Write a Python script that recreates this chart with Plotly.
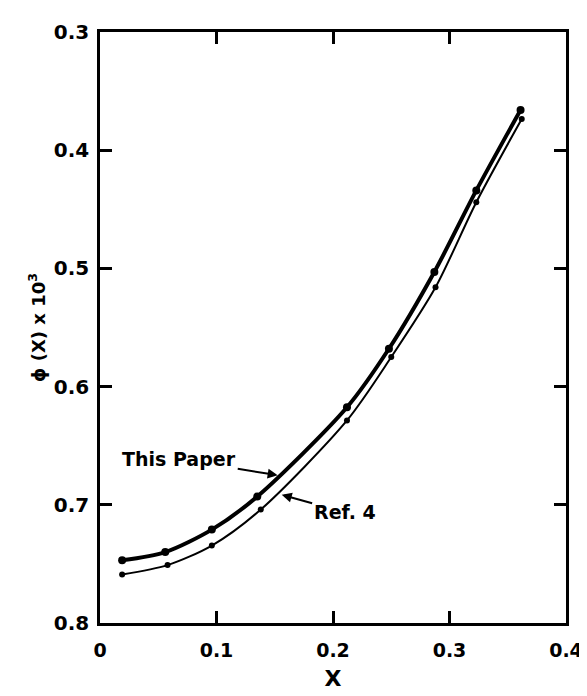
import plotly.graph_objects as go

# Data
x_this = [0.019, 0.056, 0.096, 0.135, 0.212, 0.248, 0.287, 0.323, 0.361]
y_this = [0.747, 0.740, 0.721, 0.693, 0.6175, 0.568, 0.503, 0.434, 0.366]

x_ref4 = [0.019, 0.058, 0.096, 0.138, 0.212, 0.250, 0.288, 0.323, 0.362]
y_ref4 = [0.759, 0.751, 0.7345, 0.704, 0.6286, 0.575, 0.516, 0.444, 0.3736]

x_ticks = [0, 0.1, 0.2, 0.3, 0.4]
x_tick_labels = ["0", "0.1", "0.2", "0.3", "0.4"]
y_ticks = [0.3, 0.4, 0.5, 0.6, 0.7, 0.8]
y_tick_labels = ["0.3", "0.4", "0.5", "0.6", "0.7", "0.8"]

FONT = "DejaVu Sans"

fig = go.Figure()
fig.add_trace(go.Scatter(
    x=x_ref4, y=y_ref4, mode="lines+markers",
    line=dict(color="black", width=2, shape="spline", smoothing=0.8),
    marker=dict(color="black", size=6),
    showlegend=False,
))
fig.add_trace(go.Scatter(
    x=x_this, y=y_this, mode="lines+markers",
    line=dict(color="black", width=4, shape="spline", smoothing=0.8),
    marker=dict(color="black", size=8),
    showlegend=False,
))

fig.add_annotation(
    x=0.1525, y=0.675, xref="x", yref="y",
    ax=0.068, ay=0.6615, axref="x", ayref="y",
    text="<b>This Paper</b>", showarrow=True,
    arrowhead=2, arrowsize=1, arrowwidth=2, arrowcolor="black",
    font=dict(family=FONT, size=19, color="black"),
    xanchor="center", yanchor="middle",
)
fig.add_annotation(
    x=0.156, y=0.6915, xref="x", yref="y",
    ax=0.21, ay=0.7065, axref="x", ayref="y",
    text="<b>Ref. 4</b>", showarrow=True,
    arrowhead=2, arrowsize=1, arrowwidth=2, arrowcolor="black",
    font=dict(family=FONT, size=19, color="black"),
    xanchor="center", yanchor="middle",
)

fig.update_layout(
    width=587, height=696,
    margin=dict(l=92, r=19, t=17, b=81),
    paper_bgcolor="white", plot_bgcolor="white",
    font=dict(family=FONT, size=20, color="black"),
)
fig.update_xaxes(
    range=[0, 0.4], tickvals=x_ticks, ticktext=[f"<b>{t}</b>" for t in x_tick_labels],
    ticks="inside", ticklen=12, tickwidth=2.5, tickcolor="black",
    showline=True, linewidth=2.5, linecolor="black", mirror="ticks",
    showgrid=False, zeroline=False, ticklabelstandoff=8,
    title=dict(text="<b>X</b>", font=dict(family=FONT, size=22), standoff=12),
    tickfont=dict(family=FONT, size=19),
)
fig.update_yaxes(
    range=[0.8, 0.3], tickvals=y_ticks, ticktext=[f"<b>{t}</b>" for t in y_tick_labels],
    ticks="inside", ticklen=12, tickwidth=2.5, tickcolor="black",
    showline=True, linewidth=2.5, linecolor="black", mirror="ticks",
    showgrid=False, zeroline=False, ticklabelstandoff=4,
    title=dict(text="<b>ϕ (X) x 10<sup>3</sup></b>", font=dict(family=FONT, size=18), standoff=4),
    tickfont=dict(family=FONT, size=20),
)

fig.write_html("out.html")
